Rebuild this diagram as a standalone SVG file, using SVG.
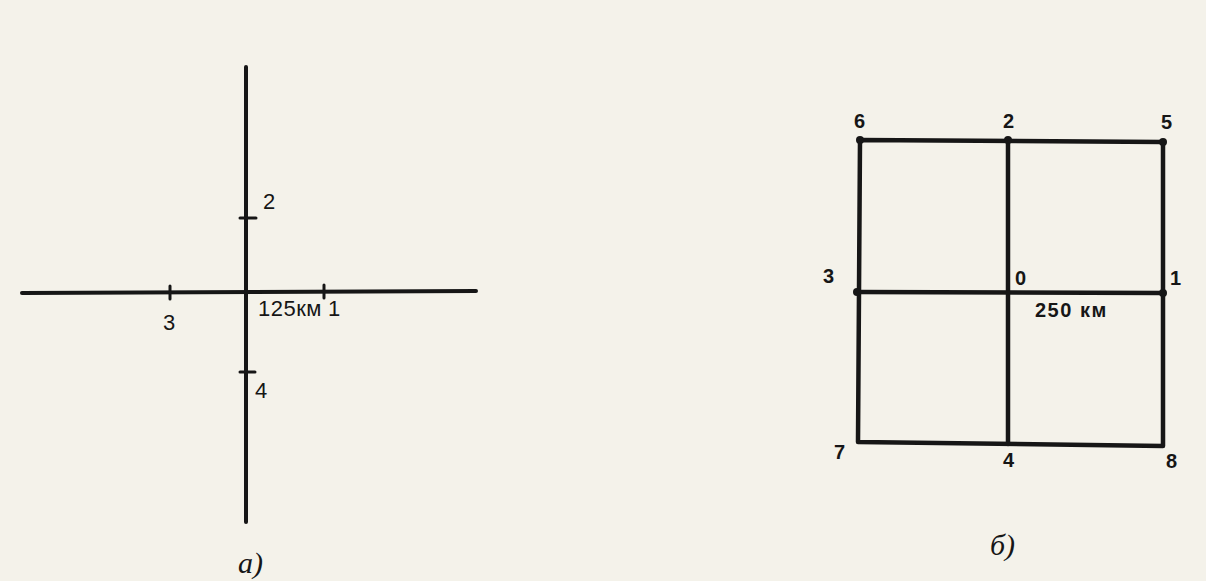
<svg xmlns="http://www.w3.org/2000/svg" width="1206" height="581" viewBox="0 0 1206 581">
<style>
.ln{stroke:#161616;stroke-width:4;stroke-linecap:round;fill:none}
.sq{stroke:#161616;stroke-width:4.5;stroke-linecap:round;stroke-linejoin:round;fill:none}
.tk{stroke:#161616;stroke-width:3;stroke-linecap:round}
.t{font-family:"Liberation Sans",Arial,sans-serif;font-size:22px;fill:#161616}
.tb{font-family:"Liberation Sans",Arial,sans-serif;font-size:20px;font-weight:bold;fill:#161616}
.cap{font-family:"Liberation Serif",serif;font-style:italic;font-size:30px;fill:#161616}
.dot{fill:#161616}
</style>
<rect width="1206" height="581" fill="#f4f2ea"/>
<g id="diagram-a">
  <g id="axes-a">
    <line class="ln" x1="246" y1="67" x2="246" y2="522"/>
    <line class="ln" x1="22" y1="293" x2="476" y2="291"/>
    <line class="tk" x1="240" y1="218" x2="256" y2="218"/>
    <line class="tk" x1="240" y1="372" x2="255" y2="372"/>
    <line class="tk" x1="170" y1="286" x2="170" y2="299"/>
    <line class="tk" x1="324" y1="285" x2="324" y2="298"/>
  </g>
  <g id="labels-a">
    <text class="t" x="263" y="209">2</text>
    <text class="t" x="163" y="330">3</text>
    <text class="t" x="258" y="316" font-size="17" letter-spacing="0.5">125км</text>
    <text class="t" x="328" y="316" font-size="19">1</text>
    <text class="t" x="255" y="398" font-size="24">4</text>
    <text class="cap" x="238" y="573">а)</text>
  </g>
</g>
<g id="diagram-b">
  <g id="grid-b">
    <path class="sq" d="M860 140 L1163 142 L1163 446 L858 442 Z"/>
    <line class="sq" x1="1008" y1="140" x2="1008" y2="444"/>
    <line class="sq" x1="858" y1="292" x2="1163" y2="293"/>
  </g>
  <g id="points-b">
    <circle class="dot" cx="860" cy="140" r="4"/>
    <circle class="dot" cx="1008" cy="140" r="4"/>
    <circle class="dot" cx="1163" cy="142" r="4"/>
    <circle class="dot" cx="857" cy="292" r="4"/>
    <circle class="dot" cx="1163" cy="293" r="4"/>
  </g>
  <g id="labels-b">
    <text class="tb" x="854" y="128">6</text>
    <text class="tb" x="1003" y="128">2</text>
    <text class="tb" x="1161" y="129">5</text>
    <text class="tb" x="823" y="283">3</text>
    <text class="tb" x="1015" y="285">0</text>
    <text class="tb" x="1170" y="285">1</text>
    <text class="tb" x="1035" y="317" font-size="16" letter-spacing="1.5">250 км</text>
    <text class="tb" x="834" y="459">7</text>
    <text class="tb" x="1003" y="467">4</text>
    <text class="tb" x="1166" y="468">8</text>
    <text class="cap" x="990" y="555">б)</text>
  </g>
</g>
</svg>
